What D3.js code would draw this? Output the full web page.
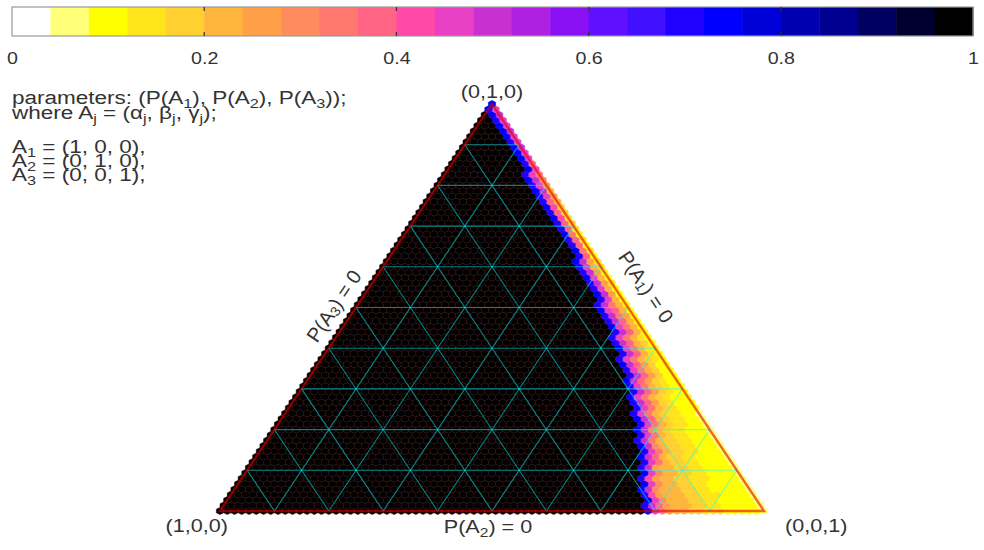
<!DOCTYPE html>
<html>
<head>
<meta charset="utf-8">
<script src="https://cdn.jsdelivr.net/npm/d3@7"></script>
<style>
  html, body { margin: 0; padding: 0; background: #fff; }
  svg { display: block; font-family: "Liberation Sans", Arial, Helvetica, sans-serif; }
</style>
</head>
<body>
<svg id="chart" width="984" height="550"></svg>
<script>
// ---------------- data ----------------
// 25 colour classes of the colour bar, from value 0 (white) to 1 (black)
const colorClasses = [
  "#ffffff", "#ffff78", "#ffff00", "#ffe41c", "#ffd030",
  "#ffb43c", "#ffa048", "#ff8c5c", "#ff7870", "#ff6484",
  "#ff48a8", "#e840c4", "#c830d0", "#b020e0", "#8a10f4",
  "#6010ff", "#4010ff", "#2000ff", "#0000ff", "#0000d8",
  "#0000b0", "#000090", "#000060", "#000030", "#000000"
];
const colorbarTicks = [0, 0.2, 0.4, 0.6, 0.8, 1];
// lattice resolution of the ternary cells
const N = 75;
// class code per character: '0'..'9','a'..'o' -> 0..24
const classCode = "0123456789abcdefghijklmno";
// one string per row of cells, row j = N*P(A2) from bottom edge (j=0) to apex (j=N).
// characters give the colour class of the cells counted from the right edge
// (P(A1)=0) inwards; all cells beyond the string are black (class 24).
const rowBands = [
  "122222333445568bi", "122222334455569ch", "12222233445557bi", "12222333445556ah",
  "12222233445557ci", "1222223344557bi", "1222233344556ah", "122223344557bi",
  "122223344556ch", "12222334458bh", "12222334459ci", "1222334458bh",
  "1222334457ci", "1222334458ch", "122233458bh", "122233457ci",
  "12233458bh", "12233459ci", "12233458bh", "2223458bh",
  "2223469ch", "2223458bi", "223469ch", "223458bh",
  "223469ci", "22469ch", "22458bh", "22469ci",
  "23458bh", "2359ch", "2358bi", "2459ch",
  "2358bh", "259ch", "258bi", "259ch",
  "268ch", "259bi", "258ch", "25bh",
  "26ci", "25bh", "36ch", "25bi",
  "26ch", "35bh", "36ci", "29h",
  "38i", "29h", "39h", "28i",
  "39h", "49h", "3ai", "49h",
  "4ai", "59h", "6bh", "5ci",
  "6bh", "7ci", "8bh", "ai",
  "9h", "bi", "bi", "ci",
  "bh", "bi", "ci", "bi",
  "bh", "ci", "bi", "i"
];
const gridLevels = [0.1, 0.2, 0.3, 0.4, 0.5, 0.6, 0.7, 0.8, 0.9];
const vertexLabels = ["(1,0,0)", "(0,1,0)", "(0,0,1)"];
const infoLines = [
  [["parameters: (P(A", 0], ["1", 1], ["), P(A", 0], ["2", 1], ["), P(A", 0], ["3", 1], ["));", 0]],
  [["where A", 0], ["j", 1], [" = (\u03b1", 0], ["j", 1], [", \u03b2", 0], ["j", 1], [", \u03b3", 0], ["j", 1], [");", 0]],
  [],
  [["A", 0], ["1", 1], [" = (1, 0, 0),", 0]],
  [["A", 0], ["2", 1], [" = (0, 1, 0),", 0]],
  [["A", 0], ["3", 1], [" = (0, 0, 1),", 0]]
];
const edgeLabels = [
  [["P(A", 0], ["3", 1], [") = 0", 0]],
  [["P(A", 0], ["1", 1], [") = 0", 0]],
  [["P(A", 0], ["2", 1], [") = 0", 0]]
];

// ---------------- drawing ----------------
const svg = d3.select("#chart");
const SX = 1.157;           // horizontal stretch of the original picture
const textColor = "#333";

// write a text made of normal / subscript parts
function richText(t, parts, size) {
  let prevSub = false;
  parts.forEach(([s, sub]) => {
    const dy = sub ? (prevSub ? 0 : 4) : (prevSub ? -4 : 0);
    t.append("tspan").text(s)
      .attr("font-size", sub ? Math.round(size * 0.7) : size)
      .attr("dy", dy);
    prevSub = !!sub;
  });
  return t;
}

// ternary scales: x from (P(A3) + P(A2)/2), y from P(A2)
const xT = d3.scaleLinear().domain([0, 1]).range([220, 764]);
const yT = d3.scaleLinear().domain([0, 1]).range([511, 104]);
const pt = (a, b, c) => [xT(c + b / 2), yT(b)];

// colour bar
const cb = d3.scaleLinear().domain([0, 1]).range([12, 973]);
const cbG = svg.append("g");
cbG.selectAll("rect.cell").data(colorClasses).join("rect")
  .attr("class", "cell")
  .attr("x", (d, i) => cb(i / colorClasses.length))
  .attr("width", (d, i) => cb((i + 1) / colorClasses.length) - cb(i / colorClasses.length) + 0.5)
  .attr("y", 7).attr("height", 29)
  .attr("fill", d => d);
cbG.append("rect").attr("x", cb(0)).attr("y", 7).attr("width", cb(1) - cb(0)).attr("height", 29)
  .attr("fill", "none").attr("stroke", "#9a9a9a").attr("stroke-width", 1.2);
cbG.selectAll("line.tk").data(colorbarTicks.slice(1, -1)).join("line")
  .attr("class", "tk")
  .attr("x1", d => cb(d)).attr("x2", d => cb(d)).attr("y1", 7).attr("y2", 11)
  .attr("stroke", "#333").attr("stroke-width", 1.2);
cbG.selectAll("line.tkb").data(colorbarTicks.slice(1, -1)).join("line")
  .attr("class", "tkb")
  .attr("x1", d => cb(d)).attr("x2", d => cb(d)).attr("y1", 32).attr("y2", 36)
  .attr("stroke", "#333").attr("stroke-width", 1.2);
const axG = svg.append("g").attr("transform", "translate(0,52)")
  .call(d3.axisBottom(cb).tickValues(colorbarTicks).tickSize(0).tickPadding(0).tickFormat(d3.format("~g")));
axG.select(".domain").remove();
axG.selectAll("text").attr("font-size", 17).attr("fill", textColor)
  .attr("font-family", "Liberation Sans, Arial, sans-serif")
  .attr("transform", `scale(${SX},1)`);

// info text
const info = svg.append("g").attr("transform", `translate(12,0) scale(1.25,1)`);
const lineY = [104, 119, 0, 153, 167, 181];
infoLines.forEach((parts, li) => {
  if (!parts.length) return;
  const t = info.append("text").attr("x", 0).attr("y", lineY[li])
    .attr("font-size", 18).attr("fill", textColor);
  richText(t, parts, 18);
});

// cells
const cells = [];
for (let j = 0; j <= N; j++) {
  const band = rowBands[j] || "";
  for (let i = 0; i <= N - j; i++) {
    const ch = band[i];
    const cls = ch === undefined ? 24 : classCode.indexOf(ch);
    cells.push({ a: i / N, b: j / N, c: (N - i - j) / N, cls });
  }
}
const dd = 1 / (3 * N);
const hexOff = [[2, -1, -1], [1, 1, -2], [-1, 2, -1], [-2, 1, 1], [-1, -1, 2], [1, -2, 1]];
const hexPath = d => "M" + hexOff.map(([p, q, r]) => pt(d.a + p * dd, d.b + q * dd, d.c + r * dd).join(",")).join("L") + "Z";
svg.append("g").selectAll("path").data(cells).join("path")
  .attr("d", hexPath)
  .attr("fill", d => colorClasses[d.cls])
  .attr("stroke", d => d.cls >= 20 ? "#2c0606" : colorClasses[d.cls])
  .attr("stroke-width", 0.5);

// grid lines (constant P(A1), P(A2), P(A3))
const gridG = svg.append("g").attr("stroke", "rgba(0,255,255,0.5)").attr("stroke-width", 1.1);
gridLevels.forEach(v => {
  const segs = [
    [pt(v, 1 - v, 0), pt(v, 0, 1 - v)],
    [pt(1 - v, v, 0), pt(0, v, 1 - v)],
    [pt(1 - v, 0, v), pt(0, 1 - v, v)]
  ];
  segs.forEach(([p0, p1]) => gridG.append("line")
    .attr("x1", p0[0]).attr("y1", p0[1]).attr("x2", p1[0]).attr("y2", p1[1]));
});

// triangle edges
const V1 = pt(1, 0, 0), V2 = pt(0, 1, 0), V3 = pt(0, 0, 1);
svg.append("path").attr("d", `M${V1}L${V2}L${V3}Z`)
  .attr("fill", "none").attr("stroke", "rgba(225,0,0,0.6)").attr("stroke-width", 2.4)
  .attr("stroke-linejoin", "miter");

// vertex labels
const lab = (txt, x, y, anchor) => svg.append("text")
  .attr("transform", `translate(${x},${y}) scale(1.2,1)`)
  .attr("text-anchor", anchor).attr("font-size", 18).attr("fill", textColor).text(txt);
lab(vertexLabels[0], V1[0] + 8, 532, "end");
lab(vertexLabels[1], V2[0], 98, "middle");
lab(vertexLabels[2], V3[0] + 21, 532, "start");

// edge labels
const ang = Math.atan2(V2[1] - V1[1], V2[0] - V1[0]) * 180 / Math.PI;
const edgeLabel = (parts, x, y, angle) => {
  const t = svg.append("text")
    .attr("transform", `translate(${x},${y}) rotate(${angle})`)
    .attr("text-anchor", "middle").attr("dominant-baseline", "central")
    .attr("font-size", 20).attr("fill", textColor);
  return richText(t, parts, 20);
};
edgeLabel(edgeLabels[0], 334, 306, ang);
edgeLabel(edgeLabels[1], 646, 287, -ang);
const bl = svg.append("text")
  .attr("transform", `translate(488,533) scale(1.2,1)`)
  .attr("text-anchor", "middle").attr("font-size", 18).attr("fill", textColor);
richText(bl, edgeLabels[2], 18);
</script>
</body>
</html>
